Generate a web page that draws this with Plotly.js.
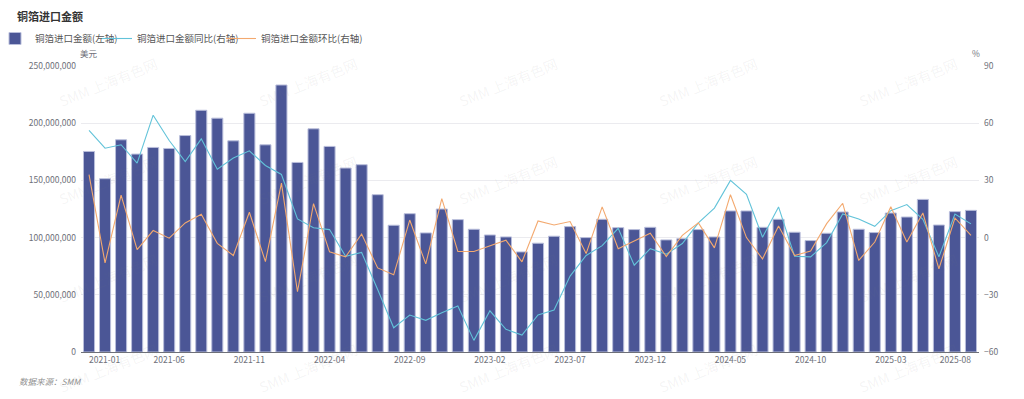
<!DOCTYPE html>
<html>
<head>
<meta charset="utf-8">
<script src="https://cdn.plot.ly/plotly-3.0.1.min.js"></script>
<style>
html,body{margin:0;padding:0;background:#fff;}
#chart{width:1024px;height:399px;}
</style>
</head>
<body>
<div id="chart"></div>
<script>
// Months 2021-01 .. 2025-08
const months = [
 "2021-01","2021-02","2021-03","2021-04","2021-05","2021-06","2021-07","2021-08","2021-09","2021-10","2021-11","2021-12",
 "2022-01","2022-02","2022-03","2022-04","2022-05","2022-06","2022-07","2022-08","2022-09","2022-10","2022-11","2022-12",
 "2023-01","2023-02","2023-03","2023-04","2023-05","2023-06","2023-07","2023-08","2023-09","2023-10","2023-11","2023-12",
 "2024-01","2024-02","2024-03","2024-04","2024-05","2024-06","2024-07","2024-08","2024-09","2024-10","2024-11","2024-12",
 "2025-01","2025-02","2025-03","2025-04","2025-05","2025-06","2025-07","2025-08"
];

// 铜箔进口金额 (美元)
const importValue = [
 175.3e6,151.5e6,185.5e6,173.0e6,178.8e6,177.9e6,189.2e6,211.3e6,204.4e6,184.6e6,208.7e6,181.1e6,
 233.4e6,165.7e6,195.1e6,179.7e6,160.8e6,163.7e6,137.5e6,110.8e6,120.9e6,104.1e6,125.0e6,115.7e6,
 107.3e6,102.3e6,100.6e6,87.5e6,95.1e6,101.2e6,109.6e6,100.0e6,116.0e6,108.7e6,107.0e6,109.0e6,
 98.0e6,99.1e6,107.0e6,100.6e6,123.3e6,123.3e6,109.0e6,116.0e6,104.7e6,97.4e6,103.8e6,122.4e6,
 107.3e6,104.4e6,121.5e6,118.0e6,133.4e6,111.0e6,122.7e6,123.8e6
];

// 同比 (%)
const yoy = [
 56.2,46.9,48.7,39.1,64.2,50.9,39.9,51.8,35.9,41.7,45.5,37.8,
 33.1,9.8,5.2,4.2,-9.8,-7.8,-27.2,-47.3,-40.6,-43.4,-39.4,-35.9,
 -53.9,-38.4,-48.1,-51.1,-40.6,-38.0,-20.2,-9.4,-4.2,4.9,-14.5,-5.8,
 -8.7,-3.1,7.7,15.5,30.0,22.7,0.2,16.1,-9.8,-10.1,-2.6,12.4,
 9.8,5.9,14.1,17.3,9.6,-10.1,12.4,7.2
];

// 环比 (%)
const mom = [
 33.0,-13.3,22.3,-6.3,3.7,-0.3,7.7,12.2,-3.0,-9.4,13.3,-12.6,
 28.6,-28.4,17.8,-7.5,-10.1,1.9,-15.9,-19.5,9.2,-13.8,20.4,-7.3,
 -7.3,-4.5,-1.4,-12.7,8.7,6.6,8.4,-8.4,16.1,-5.8,-1.6,2.3,
 -9.9,1.2,7.7,-5.4,22.5,0.0,-11.2,6.1,-9.4,-7.0,7.3,18.0,
 -12.0,-2.3,16.2,-2.3,12.9,-16.4,10.3,1.2
];

const tickLabels = ["2021-01","2021-06","2021-11","2022-04","2022-09","2023-02","2023-07","2023-12","2024-05","2024-10","2025-03","2025-08"];

const seriesNames = ["铜箔进口金额(左轴)","铜箔进口金额同比(右轴)","铜箔进口金额环比(右轴)"];

const FONT = '"Noto Sans CJK SC", "Noto Sans", sans-serif';

// x positions = month index on a linear axis
const xIdx = months.map((m, i) => i);
// tick positions; the first and last labels are nudged inward (edge-aligned like the original)
const tickPos = tickLabels.map(t => {
  const i = months.indexOf(t);
  if (i === 0) return i + 0.97;
  if (i === months.length - 1) return i - 0.97;
  return i;
});

const traces = [
 {
  type:'bar', x:xIdx, y:importValue, name:seriesNames[0], hovertext:months,
  marker:{color:'#4b5696', line:{color:'#b9bedb', width:1}},
  yaxis:'y', legend:'legend'
 },
 {
  type:'scatter', mode:'lines', x:xIdx, y:yoy, name:seriesNames[1],
  line:{color:'#62c3d9', width:1.1}, yaxis:'y2', legend:'legend2'
 },
 {
  type:'scatter', mode:'lines', x:xIdx, y:mom, name:seriesNames[2],
  line:{color:'#f3a96f', width:1.1}, yaxis:'y2', legend:'legend3'
 }
];

// plot area in pixels
const L = 81, R = 979, T = 66, B = 352;
const px = v => (v - L) / (R - L);
const py = v => (B - v) / (B - T);

const annotations = [
 {text:'美元', x:px(89), y:py(53), xref:'paper', yref:'paper', showarrow:false, xanchor:'center', yanchor:'middle', font:{size:8.5, color:'#6e7079', family:FONT}},
 {text:'%', x:px(976), y:py(53), xref:'paper', yref:'paper', showarrow:false, xanchor:'center', yanchor:'middle', font:{size:8.5, color:'#6e7079', family:FONT}},
 {text:'数据来源：SMM', x:px(17), y:py(381), xref:'paper', yref:'paper', showarrow:false, xanchor:'left', yanchor:'middle', font:{size:8.5, color:'#909090', family:FONT, style:'italic'}}
];

// watermark tiling
const wmX = [108, 308, 508, 708, 908];
const wmY = [82, 180, 278, 368];
wmY.forEach(yy => wmX.forEach(xx => {
  annotations.push({text:'SMM 上海有色网', x:px(xx), y:py(yy), xref:'paper', yref:'paper', showarrow:false,
    textangle:-22, xanchor:'center', yanchor:'middle', font:{size:14, color:'rgba(120,120,120,0.08)', family:FONT}});
}));

const legendFont = {size:9.5, color:'#555', family:FONT};
const legendBase = {orientation:'h', xanchor:'left', yanchor:'top', y:py(24), font:legendFont, itemwidth:30, bgcolor:'rgba(0,0,0,0)', borderwidth:0};

const tickFont = {size:8.5, color:'#6e7079', family:FONT};

const layout = {
 width:1024, height:399,
 margin:{l:L, r:1024-R, t:T, b:399-B, pad:0, autoexpand:false},
 paper_bgcolor:'#fff', plot_bgcolor:'#fff',
 font:{family:FONT, size:9, color:'#6e7079'},
 title:{text:'<b>铜箔进口金额</b>', x:17/1024, xanchor:'left', xref:'container', y:1-17/399, yanchor:'middle', yref:'container', font:{size:11, color:'#333', family:FONT}},
 showlegend:true,
 legend: Object.assign({}, legendBase, {x:px(-5)}),
 legend2: Object.assign({}, legendBase, {x:px(97)}),
 legend3: Object.assign({}, legendBase, {x:px(221)}),
 bargap:0.31,
 xaxis:{type:'linear', tickmode:'array', tickvals:tickPos, ticktext:tickLabels, tickangle:0,
   showgrid:false, showline:true, linecolor:'#6e7079', linewidth:1, ticks:'', zeroline:false,
   tickfont:tickFont, range:[-0.5, months.length-0.5], fixedrange:true, automargin:false},
 yaxis:{range:[0,250e6], dtick:50e6, tick0:0, tickformat:',d', showgrid:true, gridcolor:'#ebebef', gridwidth:1,
   zeroline:false, showline:false, ticks:'', ticklabelstandoff:4, tickfont:tickFont, fixedrange:true, automargin:false},
 yaxis2:{overlaying:'y', side:'right', range:[-60,90], dtick:30, tick0:-60, showgrid:false, zeroline:false,
   showline:false, ticks:'', ticklabelstandoff:4, tickfont:tickFont, fixedrange:true, automargin:false},
 annotations:annotations
};

Plotly.newPlot('chart', traces, layout, {displayModeBar:false, staticPlot:true});
</script>
</body>
</html>
